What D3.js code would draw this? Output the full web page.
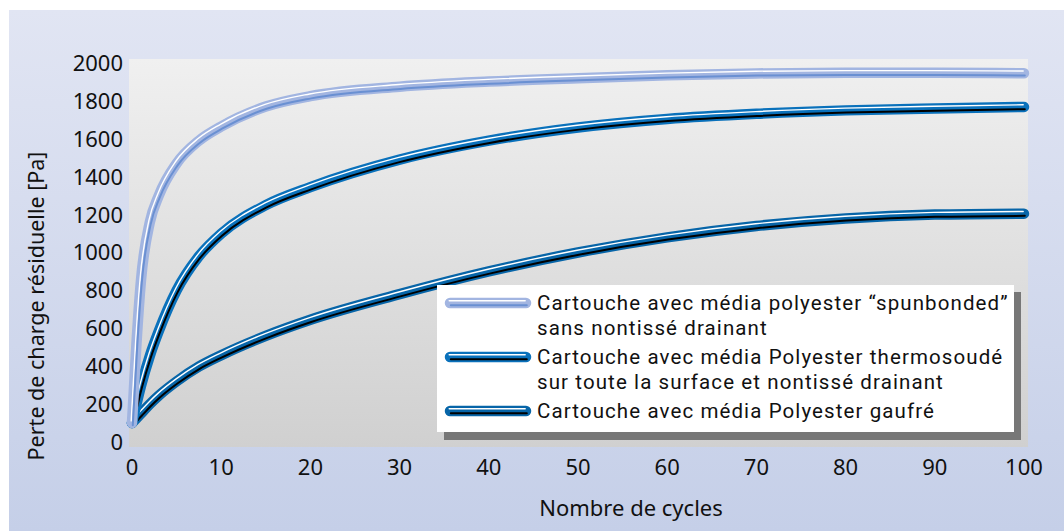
<!DOCTYPE html>
<html>
<head>
<meta charset="utf-8">
<script src="https://cdn.jsdelivr.net/npm/d3@7"></script>
<style>
  body { margin: 0; background: #fff; }
  text { font-family: "Noto Sans", sans-serif; fill: #111; }
  .legend text { font-family: Roboto, sans-serif; }
</style>
</head>
<body>
<svg id="chart" width="1064" height="531"></svg>
<script>
// data
cycles = [0, 0.5, 1, 2, 3, 5, 7.5, 10, 15, 20, 30, 40, 50, 60, 70, 80, 90, 100];
spunbonded = [100, 520, 850, 1160, 1300, 1470, 1590, 1665, 1770, 1825, 1875, 1902, 1920, 1935, 1945, 1948, 1948, 1946];
thermosoude = [100, 200, 295, 455, 585, 800, 980, 1100, 1250, 1345, 1490, 1590, 1660, 1705, 1732, 1750, 1760, 1768];
gaufre = [100, 125, 150, 200, 245, 320, 398, 458, 560, 645, 780, 900, 1000, 1080, 1140, 1180, 1200, 1205];
xTicks = [0, 10, 20, 30, 40, 50, 60, 70, 80, 90, 100];
yTicks = [0, 200, 400, 600, 800, 1000, 1200, 1400, 1600, 1800, 2000];
legendLabels = [
    ["Cartouche avec média polyester \u201cspunbonded\u201d", "sans nontissé drainant"],
    ["Cartouche avec média Polyester thermosoudé", "sur toute la surface et nontissé drainant"],
    ["Cartouche avec média Polyester gaufré"]
];

var svg = d3.select("#chart");
var defs = svg.append("defs");

var bg = defs.append("linearGradient").attr("id", "bg")
    .attr("x1", 0).attr("y1", 0).attr("x2", 0).attr("y2", 1);
bg.append("stop").attr("offset", "0%").attr("stop-color", "#e1e5f3");
bg.append("stop").attr("offset", "100%").attr("stop-color", "#c5cfe8");

var plotBg = defs.append("linearGradient").attr("id", "plotbg")
    .attr("x1", 0).attr("y1", 0).attr("x2", 0).attr("y2", 1);
plotBg.append("stop").attr("offset", "0%").attr("stop-color", "#f0f0f0");
plotBg.append("stop").attr("offset", "100%").attr("stop-color", "#d0d0d0");

svg.append("rect").attr("x", 9).attr("y", 10).attr("width", 1055).attr("height", 521)
    .attr("fill", "url(#bg)");

var x = d3.scaleLinear().domain([0, 100]).range([132, 1024]);
var y = d3.scaleLinear().domain([0, 2000]).range([442, 63]);

svg.append("rect")
    .attr("x", 129).attr("y", 59).attr("width", 899).attr("height", 388)
    .attr("fill", "url(#plotbg)");

// tick labels
svg.append("g").selectAll("text").data(yTicks).join("text")
    .attr("x", 123).attr("y", d => y(d))
    .attr("dy", "0.36em")
    .attr("text-anchor", "end")
    .style("font-size", "22px")
    .text(d => d);

svg.append("g").selectAll("text").data(xTicks).join("text")
    .attr("x", d => x(d)).attr("y", 467)
    .attr("dy", "0.36em")
    .attr("text-anchor", "middle")
    .style("font-size", "22px")
    .text(d => d);

svg.append("text")
    .attr("x", 631).attr("y", 508).attr("dy", "0.36em")
    .attr("text-anchor", "middle")
    .style("font-size", "22px")
    .text("Nombre de cycles");

svg.append("text")
    .attr("transform", "translate(36,306) rotate(-90)")
    .attr("dy", "0.36em")
    .attr("text-anchor", "middle")
    .style("font-size", "21.5px")
    .text("Perte de charge résiduelle [Pa]");

// curves: a thick band, a white highlight and a dark line under it
var styles = [
    {values: spunbonded, band: "#a2b5e1", dark: "#6a90d2"},
    {values: thermosoude, band: "#0a71bb", dark: "#000"},
    {values: gaufre, band: "#0765a8", dark: "#000"}
];

var line = d3.line()
    .x(function (d, i) { return x(cycles[i]); })
    .y(function (d) { return y(d); })
    .curve(d3.curveMonotoneX);

function drawTube(g, d, s, w) {
    g.append("path").attr("d", d)
        .attr("fill", "none").attr("stroke", s.band)
        .attr("stroke-width", w).attr("stroke-linecap", "round").attr("stroke-linejoin", "round");
    g.append("path").attr("d", d)
        .attr("transform", "translate(-0.8,-2.2)")
        .attr("fill", "none").attr("stroke", "#fff")
        .attr("stroke-width", 1.4).attr("stroke-linecap", "round");
    g.append("path").attr("d", d)
        .attr("transform", "translate(0.8,2.2)")
        .attr("fill", "none").attr("stroke", s.dark)
        .attr("stroke-width", 2).attr("stroke-linecap", "round");
}

for (var i = styles.length - 1; i >= 0; i--) {
    drawTube(svg.append("g"), line(styles[i].values), styles[i], 10.5);
}

// legend
var lg = svg.append("g").attr("class", "legend");
lg.append("rect").attr("x", 444).attr("y", 292).attr("width", 577).attr("height", 148).attr("fill", "#777");
lg.append("rect").attr("x", 437).attr("y", 285).attr("width", 577).attr("height", 147).attr("fill", "#fff");

var rowY = [303, 357, 411];
for (var i = 0; i < legendLabels.length; i++) {
    drawTube(lg.append("g"), "M450," + rowY[i] + "H526", styles[i], 10.5);
    for (var j = 0; j < legendLabels[i].length; j++) {
        lg.append("text")
            .attr("x", 537).attr("y", rowY[i] + j * 25)
            .attr("dy", "0.36em")
            .style("font-size", "20.5px")
            .style("letter-spacing", "1.1px")
            .text(legendLabels[i][j]);
    }
}
</script>
</body>
</html>
